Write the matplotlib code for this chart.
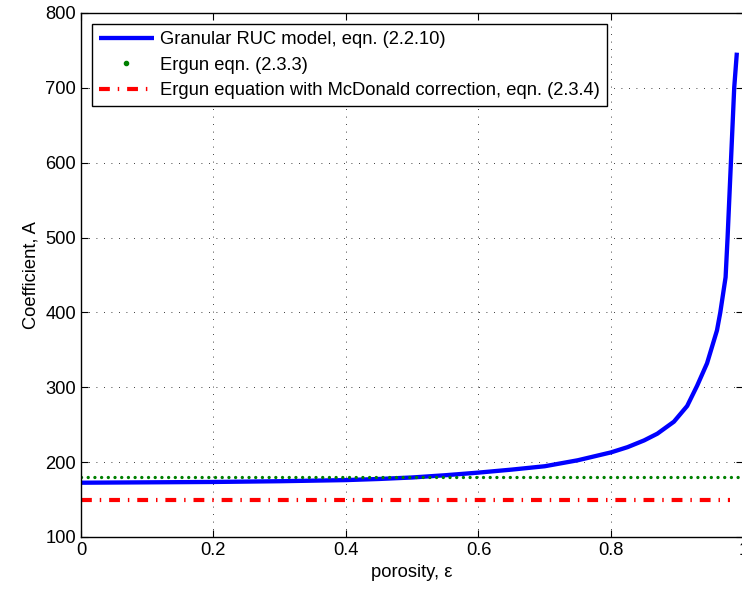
import matplotlib
matplotlib.use("Agg")
import matplotlib.pyplot as plt
from matplotlib.lines import Line2D

plt.rcParams['font.family'] = ['Liberation Sans', 'DejaVu Sans']
plt.rcParams['font.size'] = 13.2

porosity = [0, 0.1, 0.2, 0.3, 0.4, 0.45, 0.5, 0.55, 0.6, 0.65, 0.7, 0.75,
            0.8, 0.825, 0.85, 0.87, 0.895, 0.915, 0.93, 0.945, 0.96, 0.965,
            0.973, 0.976, 0.981, 0.986, 0.99]
ruc = [172.5, 173, 173.5, 174.5, 176, 177.5, 179.5, 182.5, 186, 190, 194.5, 202.5,
       213, 220, 229, 238, 254, 275, 302, 332, 376, 400,
       447, 500, 600, 700, 747]
ergun_x = [0, 1]
ergun = [180, 180]
mcd_x = [0, 0.98]
mcd = [150, 150]

labels = ["Granular RUC model, eqn. (2.2.10)",
          "Ergun eqn. (2.3.3)",
          "Ergun equation with McDonald correction, eqn. (2.3.4)"]

fig = plt.figure(figsize=(7.42, 5.95), dpi=100)
ax = fig.add_axes([0.109, 0.0975, 0.893, 0.8807])

l1, = ax.plot(porosity, ruc, color='blue', lw=3.1, solid_capstyle='butt',
              solid_joinstyle='round')
ax.plot(ergun_x, ergun, color='green', lw=2.4,
        linestyle=(0, (0.01, 2.0)), dash_capstyle='round')
l3, = ax.plot(mcd_x, mcd, color='red', lw=3,
              linestyle=(0, (2.6, 1.9, 0.35, 1.9)), dash_capstyle='butt')

ax.set_xlim(0, 1)
ax.set_ylim(100, 800)
ax.set_xticks([0, 0.2, 0.4, 0.6, 0.8, 1])
ax.set_xticklabels(['0', '0.2', '0.4', '0.6', '0.8', '1'])
ax.set_yticks(range(100, 801, 100))
ax.tick_params(direction='in', length=5, top=True, right=True, width=0.8)
ax.grid(True, color='black', lw=0.6, linestyle=(0, (1, 8)))
for s in ax.spines.values():
    s.set_linewidth(1.0)

ax.set_xlabel("porosity, ε")
ax.set_ylabel("Coefficient, A")

dot = Line2D([], [], color='green', marker='o', markersize=3, linestyle='None')
leg = ax.legend([l1, dot, l3], labels, loc='upper left', fancybox=False,
                framealpha=1, edgecolor='black', handlelength=3,
                handletextpad=0.35, labelspacing=0.47, borderpad=0.38,
                borderaxespad=0.6)
leg.get_frame().set_linewidth(1.0)

fig.savefig("out.png", dpi=100)
